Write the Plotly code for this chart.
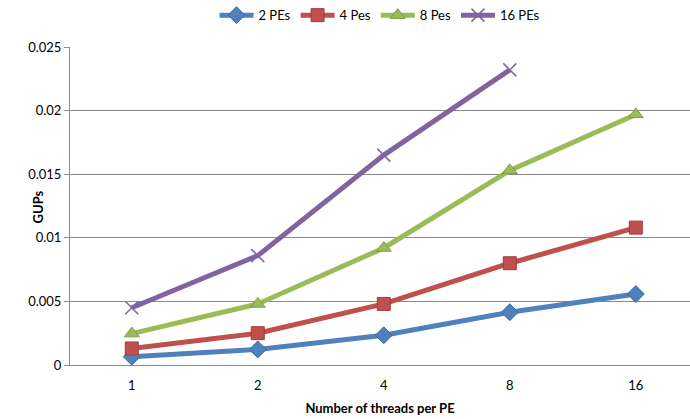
import plotly.graph_objects as go

categories = ["1", "2", "4", "8", "16"]
pe2 = [0.00065, 0.00122, 0.00234, 0.00415, 0.00558]
pe4 = [0.0013, 0.0025, 0.0048, 0.0080, 0.0108]
pe8 = [0.00247, 0.0048, 0.0092, 0.0153, 0.0197]
pe16 = [0.0045, 0.0086, 0.0165, 0.0232, None]

series = [
    ("2 PEs", pe2, "#4F81BD", "#3A6A9F", "diamond", 13),
    ("4 Pes", pe4, "#C0504D", "#A03D3A", "square", 13),
    ("8 Pes", pe8, "#9BBB59", "#7E9C42", "triangle-up", 13),
    ("16 PEs", pe16, "#8064A2", "#8064A2", "x-thin", 13),
]

fig = go.Figure()
for name, vals, col, edge, sym, sz in series:
    if sym == "x-thin":
        marker = dict(symbol=sym, size=sz, color=col, line=dict(color=col, width=1.5))
    else:
        marker = dict(symbol=sym, size=sz, color=col, line=dict(color=edge, width=1))
    fig.add_trace(go.Scatter(
        x=list(range(len(categories))), y=vals, name=name,
        mode="lines+markers", line=dict(color=col, width=5),
        marker=marker, connectgaps=False,
    ))

fig.update_layout(
    width=690, height=419,
    margin=dict(l=70, r=0, t=44, b=54),
    paper_bgcolor="white", plot_bgcolor="white",
    font=dict(family="Lato, Open Sans, sans-serif", size=13, color="#000000"),
    showlegend=True,
    legend=dict(orientation="h", x=0.50, xanchor="center", y=1.10, yanchor="middle",
                font=dict(size=13), itemwidth=34, bgcolor="rgba(0,0,0,0)",
                traceorder="normal"),
    annotations=[dict(text="<b>GUPs</b>", textangle=-90, xref="paper", yref="paper",
                      x=-0.052, y=0.498, xanchor="center", yanchor="middle",
                      showarrow=False, font=dict(size=13))],
)
fig.update_xaxes(
    tickmode="array", tickvals=list(range(len(categories))), ticktext=categories,
    range=[-0.49, 4.43], showgrid=False, zeroline=False,
    showline=True, linecolor="#8a8a8a", linewidth=1,
    title=dict(text="<b>Number of threads per PE</b>", font=dict(size=13), standoff=12),
    tickfont=dict(size=13), ticks="", ticklabelstandoff=8,
)
fig.update_yaxes(
    range=[0, 0.025], tickvals=[0, 0.005, 0.01, 0.015, 0.02, 0.025],
    ticktext=["0", "0.005", "0.01", "0.015", "0.02", "0.025"],
    showgrid=True, gridcolor="#8a8a8a", gridwidth=1, zeroline=False,
    showline=True, linecolor="#8a8a8a", linewidth=1,
    ticks="outside", ticklen=5, tickcolor="#8a8a8a",
    tickfont=dict(size=13),
)

fig.write_html("out.html")
